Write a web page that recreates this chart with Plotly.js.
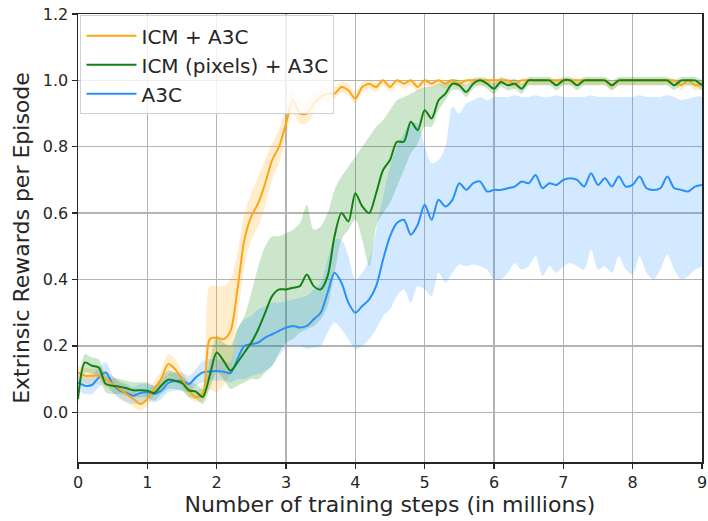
<!DOCTYPE html>
<html>
<head>
<meta charset="utf-8">
<script src="https://cdn.plot.ly/plotly-3.0.1.min.js"></script>
<style>html,body{margin:0;padding:0;background:#fff;}#chart{width:708px;height:521px;}</style>
</head>
<body>
<div id="chart"></div>
<script>
// training steps (millions)
const steps = [0.0,0.1,0.2,0.3,0.4,0.5,0.6,0.7,0.8,0.9,1.0,1.1,1.2,1.3,1.4,1.5,1.6,1.7,1.8,1.9,
2.0,2.1,2.2,2.3,2.4,2.5,2.6,2.7,2.8,2.9,3.0,3.1,3.2,3.3,3.4,3.5,3.6,3.7,3.8,3.9,
4.0,4.1,4.2,4.3,4.4,4.5,4.6,4.7,4.8,4.9,5.0,5.1,5.2,5.3,5.4,5.5,5.6,5.7,5.8,5.9,
6.0,6.1,6.2,6.3,6.4,6.5,6.6,6.7,6.8,6.9,7.0,7.1,7.2,7.3,7.4,7.5,7.6,7.7,7.8,7.9,
8.0,8.1,8.2,8.3,8.4,8.5,8.6,8.7,8.8,8.9,9.0];

// ICM + A3C
const icmMean = [0.12,0.11,0.11,0.11,0.10,0.085,0.07,0.055,0.04,0.025,0.04,0.07,0.10,0.145,0.13,0.10,0.065,0.045,0.055,0.22,
0.225,0.22,0.245,0.37,0.52,0.59,0.63,0.69,0.76,0.80,0.87,0.94,0.90,0.90,0.93,0.95,0.96,0.96,0.98,0.97,
0.945,0.98,0.99,0.98,1.0,0.98,1.0,0.99,1.0,0.98,1.0,0.99,1.0,0.99,1.0,0.99,1.0,1.0,1.0,1.0,
1.0,1.0,1.0,0.99,1.0,1.0,1.0,1.0,1.0,1.0,1.0,1.0,1.0,1.0,1.0,1.0,1.0,0.985,1.0,1.0,
1.0,1.0,1.0,1.0,1.0,1.0,1.0,0.985,1.0,0.985,0.99];
const icmLo = [0.09,0.085,0.085,0.085,0.075,0.06,0.045,0.03,0.015,0.005,0.02,0.05,0.075,0.11,0.10,0.075,0.045,0.03,0.035,0.07,
0.06,0.08,0.12,0.28,0.44,0.52,0.56,0.62,0.70,0.75,0.83,0.90,0.87,0.87,0.90,0.93,0.94,0.945,0.965,0.955,
0.93,0.965,0.975,0.965,0.985,0.965,0.985,0.975,0.985,0.965,0.985,0.975,0.985,0.975,0.985,0.975,0.985,0.985,0.985,0.985,
0.985,0.985,0.985,0.975,0.985,0.985,0.985,0.985,0.985,0.985,0.985,0.985,0.985,0.985,0.985,0.985,0.985,0.97,0.985,0.985,
0.985,0.985,0.985,0.985,0.985,0.985,0.985,0.97,0.985,0.97,0.975];
const icmHi = [0.14,0.135,0.13,0.135,0.125,0.11,0.095,0.08,0.065,0.05,0.065,0.095,0.125,0.175,0.16,0.125,0.09,0.065,0.08,0.38,
0.38,0.38,0.40,0.48,0.60,0.66,0.71,0.76,0.81,0.85,0.92,0.97,0.94,0.94,0.96,0.97,0.98,0.98,0.995,0.99,
0.965,0.995,1.0,0.995,1.005,0.995,1.005,1.0,1.005,0.995,1.005,1.0,1.005,1.0,1.005,1.0,1.005,1.005,1.005,1.005,
1.005,1.005,1.005,1.0,1.005,1.005,1.005,1.005,1.005,1.005,1.005,1.005,1.005,1.005,1.005,1.005,1.005,0.995,1.005,1.005,
1.005,1.005,1.005,1.005,1.005,1.005,1.005,0.995,1.005,0.995,1.0];

// ICM (pixels) + A3C
const pixMean = [0.04,0.15,0.14,0.135,0.085,0.08,0.077,0.072,0.066,0.066,0.065,0.058,0.08,0.098,0.095,0.088,0.066,0.062,0.046,0.11,
0.18,0.155,0.125,0.15,0.18,0.21,0.25,0.30,0.35,0.37,0.37,0.375,0.38,0.415,0.38,0.37,0.41,0.53,0.60,0.575,
0.66,0.62,0.60,0.66,0.73,0.76,0.815,0.815,0.875,0.85,0.91,0.885,0.94,0.96,0.99,0.985,0.965,0.99,1.0,0.99,
0.975,0.995,0.985,0.99,0.975,1.0,1.0,1.0,1.0,0.985,1.0,1.0,0.985,1.0,1.0,1.0,1.0,0.985,1.0,1.0,
1.0,1.0,1.0,1.0,1.0,1.0,0.985,1.0,1.0,1.0,0.985];
const pixLo = [0.02,0.12,0.115,0.11,0.06,0.055,0.055,0.05,0.045,0.045,0.045,0.035,0.055,0.07,0.07,0.065,0.045,0.04,0.025,0.07,
0.12,0.10,0.07,0.08,0.09,0.10,0.10,0.12,0.14,0.18,0.21,0.22,0.24,0.25,0.26,0.28,0.32,0.42,0.52,0.55,
0.58,0.52,0.44,0.56,0.60,0.63,0.68,0.73,0.78,0.81,0.86,0.86,0.91,0.94,0.97,0.97,0.95,0.975,0.985,0.975,
0.96,0.98,0.97,0.975,0.96,0.985,0.985,0.985,0.985,0.97,0.985,0.985,0.97,0.985,0.985,0.985,0.985,0.97,0.985,0.985,
0.985,0.985,0.985,0.985,0.985,0.985,0.97,0.985,0.985,0.985,0.97];
const pixHi = [0.06,0.175,0.165,0.16,0.11,0.105,0.10,0.095,0.09,0.09,0.09,0.08,0.105,0.125,0.12,0.11,0.09,0.085,0.07,0.15,
0.23,0.21,0.20,0.25,0.29,0.36,0.44,0.50,0.53,0.53,0.54,0.55,0.57,0.625,0.55,0.56,0.60,0.67,0.71,0.74,
0.77,0.80,0.83,0.86,0.88,0.91,0.94,0.95,0.96,0.97,0.98,0.98,0.99,0.995,1.005,1.0,0.985,1.005,1.01,1.005,
0.99,1.01,1.0,1.005,0.99,1.01,1.01,1.01,1.01,1.0,1.01,1.01,1.0,1.01,1.01,1.01,1.01,1.0,1.01,1.01,
1.01,1.01,1.01,1.01,1.01,1.01,1.0,1.01,1.01,1.01,1.0];

// A3C
const a3cMean = [0.09,0.08,0.082,0.105,0.12,0.085,0.066,0.058,0.05,0.058,0.06,0.055,0.065,0.088,0.094,0.094,0.085,0.105,0.12,0.123,
0.124,0.122,0.118,0.16,0.20,0.205,0.21,0.225,0.235,0.245,0.255,0.26,0.255,0.26,0.28,0.30,0.36,0.42,0.39,0.33,
0.30,0.32,0.34,0.38,0.46,0.53,0.57,0.58,0.535,0.565,0.625,0.58,0.64,0.62,0.64,0.69,0.67,0.69,0.695,0.665,
0.67,0.67,0.675,0.68,0.695,0.69,0.715,0.675,0.69,0.685,0.70,0.705,0.70,0.68,0.72,0.685,0.705,0.68,0.71,0.68,
0.685,0.71,0.675,0.67,0.675,0.71,0.675,0.67,0.665,0.68,0.685];
const a3cLo = [0.065,0.055,0.055,0.075,0.09,0.06,0.04,0.03,0.025,0.03,0.035,0.03,0.04,0.06,0.065,0.065,0.06,0.08,0.09,0.095,
0.095,0.095,0.09,0.10,0.10,0.11,0.115,0.125,0.14,0.17,0.195,0.20,0.20,0.19,0.195,0.20,0.24,0.27,0.25,0.22,
0.19,0.20,0.22,0.25,0.29,0.31,0.35,0.37,0.33,0.38,0.37,0.35,0.42,0.39,0.42,0.445,0.44,0.445,0.44,0.43,
0.40,0.40,0.42,0.45,0.43,0.44,0.47,0.41,0.44,0.42,0.44,0.45,0.44,0.43,0.49,0.43,0.44,0.42,0.47,0.43,
0.415,0.47,0.42,0.40,0.43,0.475,0.43,0.40,0.41,0.43,0.44];
const a3cHi = [0.115,0.105,0.11,0.135,0.15,0.11,0.09,0.085,0.075,0.085,0.085,0.08,0.09,0.115,0.12,0.12,0.11,0.13,0.155,0.16,
0.16,0.155,0.15,0.25,0.28,0.29,0.31,0.32,0.33,0.33,0.335,0.34,0.345,0.35,0.37,0.39,0.46,0.52,0.52,0.47,
0.40,0.42,0.46,0.55,0.65,0.74,0.80,0.84,0.87,0.87,0.80,0.75,0.76,0.80,0.92,0.90,0.93,0.94,0.95,0.94,
0.95,0.95,0.95,0.955,0.95,0.95,0.955,0.95,0.95,0.955,0.95,0.95,0.95,0.95,0.955,0.95,0.95,0.95,0.95,0.95,
0.95,0.955,0.95,0.95,0.95,0.955,0.95,0.94,0.945,0.95,0.95];

const yTicks = [0.0,0.2,0.4,0.6,0.8,1.0,1.2];
const xTicks = [0,1,2,3,4,5,6,7,8,9];

function band(lo, hi, color) {
  return {
    x: steps.concat(steps.slice().reverse()),
    y: hi.concat(lo.slice().reverse()),
    type: 'scatter', mode: 'lines', fill: 'toself',
    fillcolor: color, line: {width: 0, shape: 'spline', smoothing: 0.8}, hoverinfo: 'skip', showlegend: false
  };
}
function line(y, name, color, rank) {
  return {x: steps, y: y, type: 'scatter', mode: 'lines', name: name,
    line: {color: color, width: 2, shape: 'spline', smoothing: 0.8}, legendrank: rank};
}

const traces = [
  band(icmLo, icmHi, 'rgba(255,165,0,0.2)'),
  band(pixLo, pixHi, 'rgba(0,128,0,0.2)'),
  band(a3cLo, a3cHi, 'rgba(30,144,255,0.2)'),
  line(a3cMean, 'A3C', '#2a8ff7', 3),
  line(icmMean, 'ICM + A3C', '#ffa514', 1),
  line(pixMean, 'ICM (pixels) + A3C', '#128212', 2)
];

const axisCommon = {
  showline: true, mirror: true, linecolor: '#262626', linewidth: 1.5,
  ticks: 'outside', ticklen: 5, tickwidth: 1.3, tickcolor: '#262626',
  showgrid: true, gridcolor: '#b4b4b4', gridwidth: 1.3,
  zeroline: false,
  tickfont: {family: 'DejaVu Sans', size: 16, color: '#262626'}
};

const layout = {
  width: 708, height: 521,
  margin: {l: 78, r: 6, t: 14, b: 59},
  paper_bgcolor: '#fff', plot_bgcolor: '#fff',
  font: {family: 'DejaVu Sans', color: '#262626'},
  xaxis: Object.assign({}, axisCommon, {
    range: [0, 9], tickvals: xTicks, ticktext: xTicks.map(String),
    title: {text: 'Number of training steps (in millions)', font: {size: 22, family: 'DejaVu Sans', color: '#262626'}, standoff: 2}
  }),
  yaxis: Object.assign({}, axisCommon, {
    range: [-0.15, 1.2], tickvals: yTicks, ticktext: yTicks.map(v => v.toFixed(1)),
    title: {text: 'Extrinsic Rewards per Episode', font: {size: 22, family: 'DejaVu Sans', color: '#262626'}, standoff: 7}
  }),
  legend: {
    x: 0.004, y: 0.997, xanchor: 'left', yanchor: 'top',
    bgcolor: 'rgba(255,255,255,0.8)', bordercolor: '#d0d0d0', borderwidth: 1,
    font: {family: 'DejaVu Sans', size: 20, color: '#262626'},
    itemwidth: 50, traceorder: 'normal'
  },
  showlegend: true
};

Plotly.newPlot('chart', traces, layout, {displayModeBar: false, staticPlot: true});
</script>
</body>
</html>
